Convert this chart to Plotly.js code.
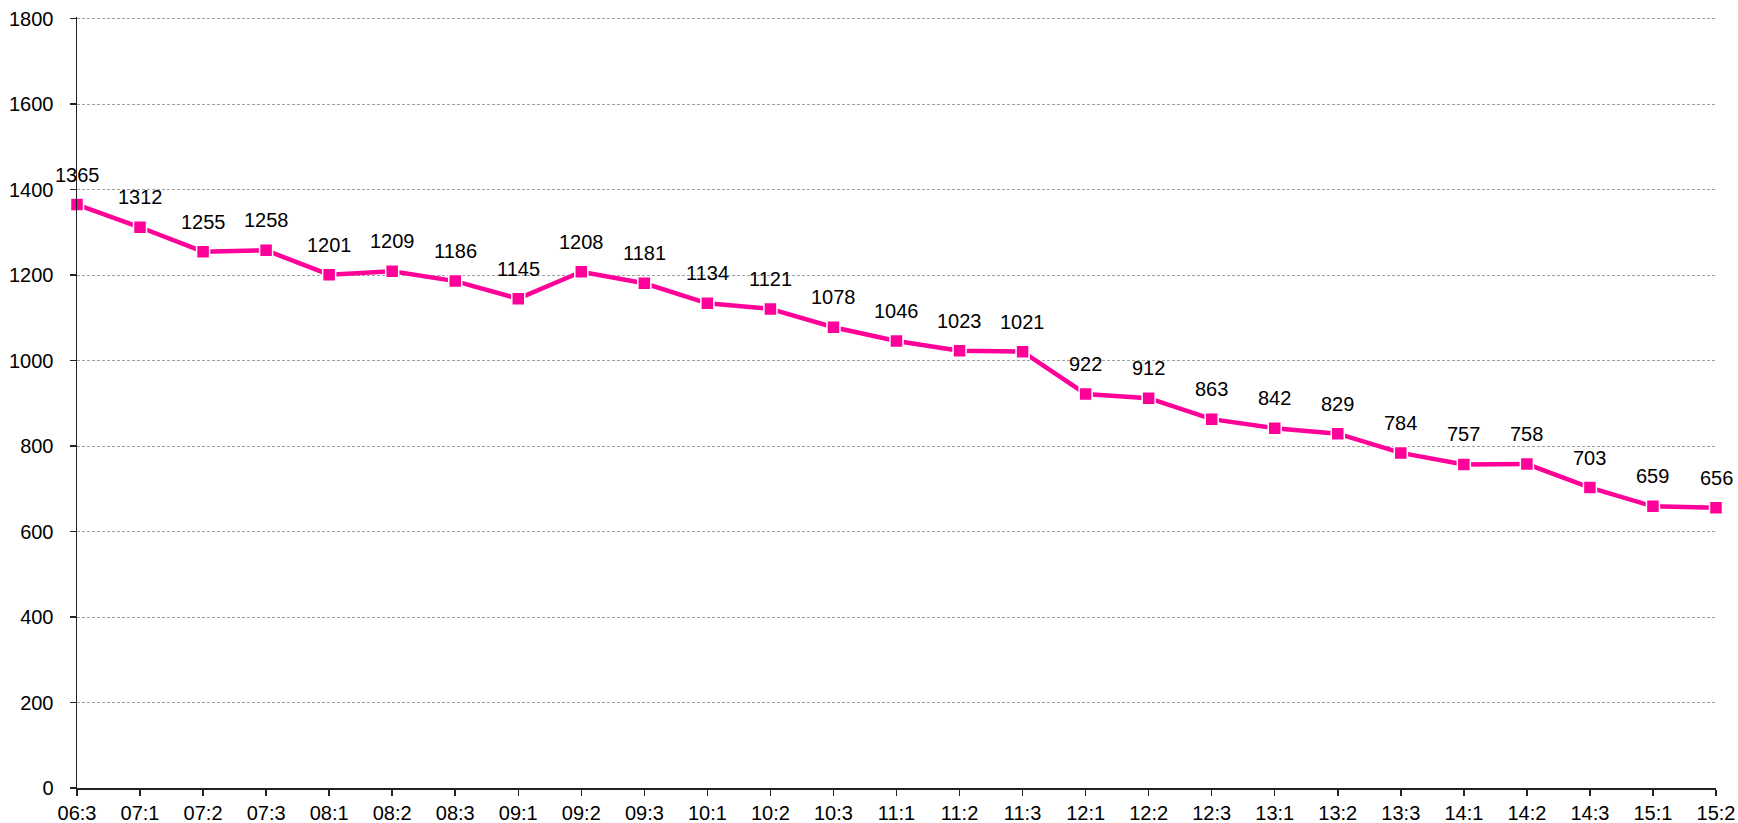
<!DOCTYPE html>
<html>
<head>
<meta charset="utf-8">
<script src="https://cdn.plot.ly/plotly-3.0.1.min.js"></script>
<style>html,body{margin:0;padding:0;background:#fff;}#chart{width:1738px;height:823px;}</style>
</head>
<body>
<div id="chart"></div>
<script>
const categories = ["06:3","07:1","07:2","07:3","08:1","08:2","08:3","09:1","09:2","09:3","10:1","10:2","10:3","11:1","11:2","11:3","12:1","12:2","12:3","13:1","13:2","13:3","14:1","14:2","14:3","15:1","15:2"];
const values = [1365,1312,1255,1258,1201,1209,1186,1145,1208,1181,1134,1121,1078,1046,1023,1021,922,912,863,842,829,784,757,758,703,659,656];
const yTicks = [0,200,400,600,800,1000,1200,1400,1600,1800];

const font = {family: "Liberation Sans, Arial, sans-serif", size: 20, color: "#000"};

const trace = {
  type: "scatter",
  mode: "lines+markers",
  x: categories,
  y: values,
  line: {color: "#FF0099", width: 4.5},
  marker: {symbol: "square", size: 13, color: "#FF0099", line: {color: "#fff", width: 1.5}},
  hoverinfo: "skip",
  cliponaxis: false
};

const annotations = categories.map((c, i) => ({
  x: c, y: values[i], xref: "x", yref: "y",
  text: String(values[i]), showarrow: false,
  yshift: 30, font: font
}));

const layout = {
  width: 1738, height: 823,
  margin: {l: 77, r: 22, t: 17, b: 35},
  paper_bgcolor: "#fff", plot_bgcolor: "#fff",
  showlegend: false,
  font: font,
  xaxis: {
    type: "category",
    range: [0, categories.length - 1],
    showline: true, linecolor: "#222", linewidth: 1.5,
    ticks: "outside", ticklen: 6, tickcolor: "#222", tickwidth: 1.5,
    showgrid: false, zeroline: false,
    tickfont: font
  },
  yaxis: {
    range: [0, 1804],
    tickvals: yTicks,
    showline: true, linecolor: "#222", linewidth: 1.5,
    ticks: "outside", ticklen: 6, tickcolor: "#222", tickwidth: 1.5,
    ticklabelstandoff: 12,
    showgrid: true, gridcolor: "#a0a0a0", griddash: "3px,2px", gridwidth: 1,
    zeroline: false,
    tickfont: font
  },
  annotations: annotations
};

Plotly.newPlot("chart", [trace], layout, {displayModeBar: false, staticPlot: true});
</script>
</body>
</html>
